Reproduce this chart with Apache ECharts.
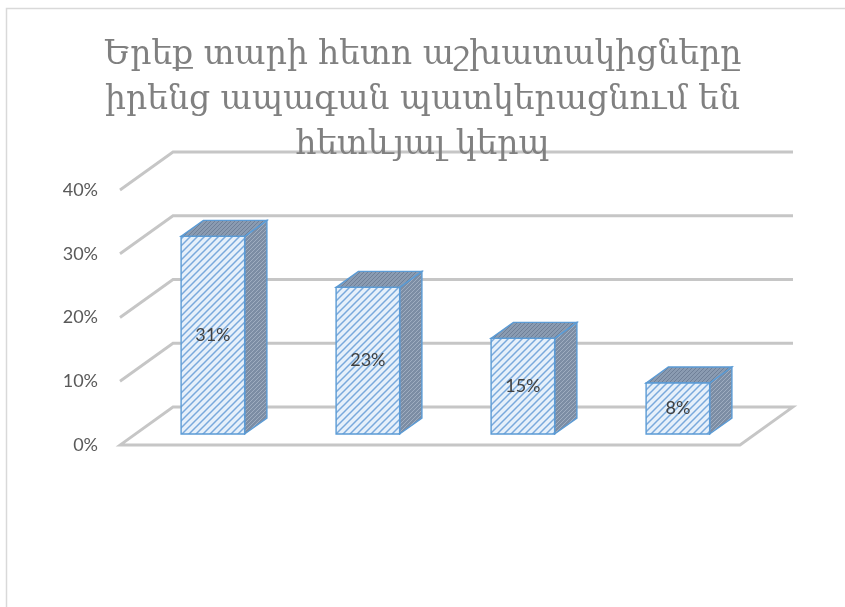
<!DOCTYPE html>
<html>
<head>
<meta charset="utf-8">
<script src="https://cdn.jsdelivr.net/npm/echarts@6/dist/echarts.min.js"></script>
<style>
  html, body { margin: 0; padding: 0; background: #ffffff; }
  #chart { width: 845px; height: 607px; }
</style>
</head>
<body>
<div id="chart"></div>
<script>
// Chart data
const categories = ['1', '2', '3', '4'];
const shares = [0.31, 0.23, 0.15, 0.08];
const tickValues = [0, 0.1, 0.2, 0.3, 0.4];
const titleLines = [
  'Երեք տարի հետո աշխատակիցները',
  'իրենց ապագան պատկերացնում են',
  'հետևյալ կերպ'
];

// 3D frame: pixel offset from the front plane to the back wall
const DEPTH = [53, -38];
// bars sit between these depth fractions
const BAR_FRONT = 0.29, BAR_BACK = 0.71, BAR_WIDTH = 0.41;

function makePattern(size, bg, stroke, lw) {
  const c = document.createElement('canvas');
  c.width = size; c.height = size;
  const g = c.getContext('2d');
  g.fillStyle = bg; g.fillRect(0, 0, size, size);
  g.strokeStyle = stroke; g.lineWidth = lw;
  g.beginPath();
  g.moveTo(-1, size + 1); g.lineTo(size + 1, -1);
  g.moveTo(-2, 2); g.lineTo(2, -2);
  g.moveTo(size - 2, size + 2); g.lineTo(size + 2, size - 2);
  g.stroke();
  return { image: c, repeat: 'repeat' };
}
const frontFill = makePattern(7, '#e6f0fa', '#79a9dc', 1.5);
const sideFill = makePattern(4, '#7c8da4', '#a3b1c3', 0.9);
const topFill = makePattern(4, '#8a9bb1', '#6c7d95', 0.9);

const gridLine = { stroke: '#c6c6c6', lineWidth: 2.8, fill: null, lineJoin: 'miter' };

function renderFrame(params, api) {
  const cs = params.coordSys;
  const v = api.value(1);
  const y = api.coord([0, v])[1];
  const x0 = cs.x, x1 = cs.x + cs.width;
  const [dx, dy] = DEPTH;
  if (v === 0) {
    return {
      type: 'polygon',
      shape: { points: [[x0, y], [x1, y], [x1 + dx, y + dy], [x0 + dx, y + dy]] },
      style: gridLine
    };
  }
  return {
    type: 'polyline',
    shape: { points: [[x0, y], [x0 + dx, y + dy], [x1 + dx, y + dy]] },
    style: gridLine
  };
}

function renderBar(params, api) {
  const idx = api.value(0);
  const val = api.value(1);
  const base = api.coord([idx, 0]);
  const top = api.coord([idx, val]);
  const band = api.size([1, 0])[0];
  const w = band * BAR_WIDTH;
  const [dx, dy] = DEPTH;
  const fx = base[0] - w / 2 + dx * BAR_FRONT;
  const fyB = base[1] + dy * BAR_FRONT;
  const fyT = top[1] + dy * BAR_FRONT;
  const ddx = dx * (BAR_BACK - BAR_FRONT), ddy = dy * (BAR_BACK - BAR_FRONT);
  const edge = { stroke: '#5b9bd5', lineWidth: 1.4 };
  return {
    type: 'group',
    children: [
      {
        type: 'polygon',
        shape: { points: [[fx + w, fyT], [fx + w + ddx, fyT + ddy], [fx + w + ddx, fyB + ddy], [fx + w, fyB]] },
        style: Object.assign({ fill: sideFill }, edge)
      },
      {
        type: 'polygon',
        shape: { points: [[fx, fyT], [fx + ddx, fyT + ddy], [fx + w + ddx, fyT + ddy], [fx + w, fyT]] },
        style: Object.assign({ fill: topFill }, edge)
      },
      {
        type: 'rect',
        shape: { x: fx, y: fyT, width: w, height: fyB - fyT },
        style: Object.assign({ fill: frontFill }, edge)
      },
      {
        type: 'text',
        x: fx + w / 2,
        y: (fyT + fyB) / 2,
        style: {
          text: Math.round(val * 100) + '%',
          fill: '#404040',
          font: '18px Lato, "Liberation Sans", sans-serif',
          align: 'center',
          verticalAlign: 'middle'
        }
      }
    ]
  };
}

const chart = echarts.init(document.getElementById('chart'), null, { renderer: 'canvas' });
chart.setOption({
  animation: false,
  backgroundColor: '#ffffff',
  title: {
    text: titleLines.join('\n'),
    left: 'center',
    top: 28,
    textStyle: {
      color: '#808080',
      fontSize: 33,
      fontWeight: 'normal',
      fontFamily: '"DejaVu Serif", "DejaVu Sans", serif',
      lineHeight: 45
    }
  },
  graphic: [{
    type: 'rect',
    shape: { x: 6.5, y: 8.5, width: 900, height: 700 },
    style: { fill: null, stroke: '#d9d9d9', lineWidth: 1.5 },
    silent: true
  }],
  grid: { left: 120, right: 105, top: 190, bottom: 162 },
  xAxis: {
    type: 'category',
    data: categories,
    axisLine: { show: false },
    axisTick: { show: false },
    axisLabel: { show: false },
    splitLine: { show: false }
  },
  yAxis: {
    type: 'value',
    min: 0,
    max: 0.4,
    interval: 0.1,
    axisLine: { show: false },
    axisTick: { show: false },
    splitLine: { show: false },
    axisLabel: {
      margin: 22,
      color: '#595959',
      fontSize: 18,
      fontFamily: '"Liberation Sans Narrow", Lato, sans-serif',
      formatter: v => Math.round(v * 100) + '%'
    }
  },
  series: [
    {
      type: 'custom',
      z: 1,
      silent: true,
      renderItem: renderFrame,
      data: tickValues.map(v => [0, v])
    },
    {
      type: 'custom',
      z: 2,
      renderItem: renderBar,
      data: shares.map((v, i) => [i, v])
    }
  ]
});
</script>
</body>
</html>
